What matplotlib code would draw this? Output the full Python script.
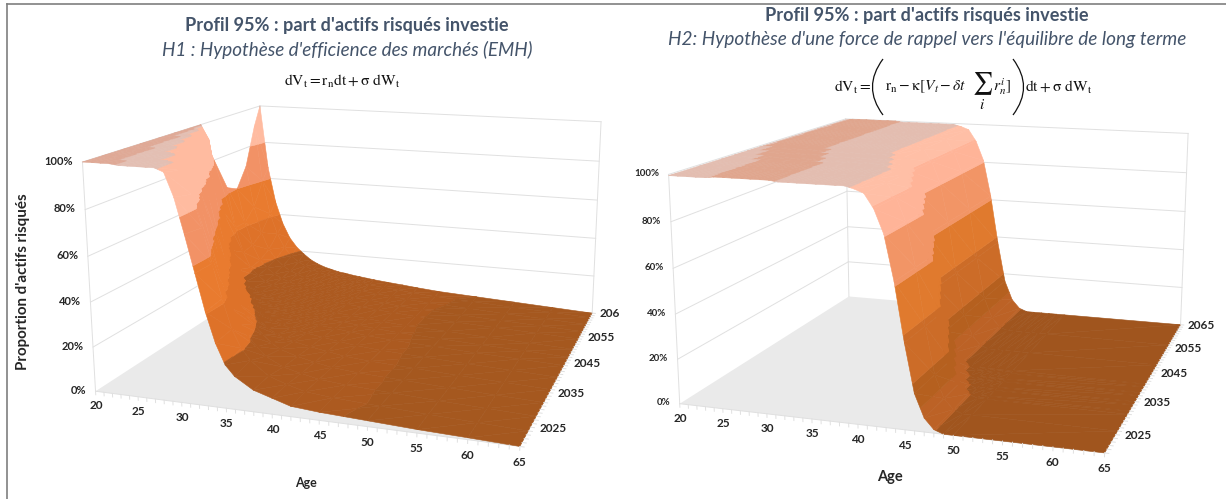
import matplotlib
matplotlib.use('Agg')
import matplotlib.pyplot as plt
from matplotlib.lines import Line2D
from matplotlib.patches import PathPatch
from matplotlib.path import Path
from mpl_toolkits.mplot3d import proj3d
from mpl_toolkits.mplot3d.art3d import Poly3DCollection

W, H = 1226, 499
plt.rcParams['font.family'] = ['Lato', 'DejaVu Sans']
plt.rcParams['mathtext.fontset'] = 'stix'

# ---- H1 surface: one row of risky share per year, one column per age
ages_h1 = [20, 21, 22, 23, 24, 25, 26, 27, 28, 29, 30, 31, 32, 33, 34, 35, 36, 38, 40, 42, 45, 50, 55, 60, 65]
years_h1 = [2020, 2024, 2028, 2032, 2036, 2040, 2044, 2047, 2050, 2054, 2057, 2060, 2063, 2065]
z_h1 = [
    [1, 1, 1, 1, .995, .995, .995, .995, .995, .98, .88, .73, .57, .41, .28, .19, .145, .095, .07, .045, .035, .025, .015, .008, 0],
    [1, 1, 1, .995, .995, .995, .995, .995, .99, .96, .86, .72, .57, .42, .29, .21, .16, .10, .072, .05, .038, .027, .017, .008, 0],
    [1, 1, 1, .995, .995, .995, .995, .97, .90, .78, .62, .46, .33, .26, .21, .165, .125, .085, .065, .048, .037, .026, .016, .008, 0],
    [1, 1, .995, .995, .995, .98, .93, .82, .67, .50, .38, .30, .25, .205, .165, .13, .105, .08, .062, .047, .036, .026, .016, .008, 0],
    [1, 1, .995, .995, .97, .90, .76, .58, .42, .32, .25, .21, .17, .14, .115, .10, .09, .073, .06, .046, .036, .026, .016, .008, 0],
    [1, .995, .995, .96, .85, .66, .46, .33, .25, .20, .165, .14, .125, .11, .095, .088, .08, .068, .056, .045, .035, .025, .016, .008, 0],
    [1, .995, .93, .72, .47, .31, .23, .18, .15, .13, .115, .105, .095, .09, .082, .076, .07, .062, .053, .043, .034, .025, .015, .008, 0],
    [1, .93, .70, .42, .27, .20, .16, .135, .12, .105, .095, .09, .085, .08, .075, .07, .066, .058, .05, .042, .033, .024, .015, .008, 0],
    [.82, .55, .34, .24, .18, .15, .13, .115, .105, .095, .09, .085, .08, .075, .07, .066, .062, .055, .048, .04, .032, .024, .015, .008, 0],
    [.63, .42, .29, .21, .17, .14, .125, .11, .10, .092, .086, .08, .076, .072, .068, .064, .06, .054, .047, .04, .032, .023, .015, .008, 0],
    [.60, .42, .30, .22, .18, .15, .13, .115, .103, .095, .088, .082, .077, .073, .069, .065, .061, .055, .048, .04, .032, .024, .015, .008, 0],
    [.70, .48, .34, .25, .20, .165, .14, .125, .11, .10, .092, .086, .08, .076, .072, .068, .064, .057, .05, .042, .034, .025, .015, .008, 0],
    [.90, .60, .42, .31, .235, .19, .16, .14, .122, .11, .10, .092, .086, .08, .075, .07, .066, .059, .052, .043, .035, .026, .016, .009, 0],
    [1, .66, .47, .35, .27, .22, .185, .155, .135, .12, .11, .10, .095, .088, .083, .078, .073, .065, .058, .05, .04, .03, .02, .01, 0],
]

# ---- H2 surface: the cliff keeps its shape and moves to younger ages
ages_h2 = [20, 21, 22, 23, 24, 25, 26, 27, 28, 29, 30, 31, 32, 33, 34, 35, 36, 37, 38, 39, 40, 41, 42, 43, 44, 45, 46, 47, 48, 49, 50, 65]
row_a = [.995, .995, .995, .995, .995, 1, 1, 1, 1, 1, 1, 1, .995, .995, .995, .995, .995, .995, .995, .995, .985, .97, .91, .81, .62, .37, .16, .06, .015, 0, 0, 0]
row_b = [.995, .995, .995, .995, 1, 1, 1, 1, 1, 1, 1, .995, .995, .995, .995, .995, .995, .995, .995, .985, .97, .91, .81, .62, .37, .16, .06, .015, 0, 0, 0, 0]
row_c = [.995, .995, .995, 1, 1, 1, 1, 1, 1, 1, .995, .995, .995, .995, .995, .995, .995, .995, .985, .97, .91, .81, .62, .37, .16, .06, .015, 0, 0, 0, 0, 0]
row_d = [.995, .995, 1, 1, 1, 1, 1, 1, 1, .995, .995, .995, .995, .995, .995, .995, .995, .985, .97, .91, .81, .62, .37, .16, .06, .015, 0, 0, 0, 0, 0, 0]
row_e = [.995, 1, 1, 1, 1, 1, 1, 1, .995, .995, .995, .995, .995, .995, .995, .995, .985, .97, .91, .81, .62, .37, .16, .06, .015, 0, 0, 0, 0, 0, 0, 0]
years_h2 = [2020, 2026, 2031, 2032, 2034, 2035, 2037, 2038, 2040, 2041, 2048, 2056, 2065]
z_h2 = [row_a, row_a, row_a, row_b, row_b, row_c, row_c, row_d, row_d, row_e, row_e, row_e, row_e]

z_ticks = [0, .2, .4, .6, .8, 1]
z_labels = ['0%', '20%', '40%', '60%', '80%', '100%']
age_ticks = [20, 25, 30, 35, 40, 45, 50, 55, 60, 65]
year_ticks = [2025, 2035, 2045, 2055, 2065]

levels_h1 = [-1, .03, .20, .40, .60, .80, .99, .997, 1.01]
colors_h1 = ['#A5581F', '#AC5A20', '#DE7229', '#E97B2F', '#F29266', '#FFBBA0', '#E3BFB3', '#DFA996']
levels_h2 = [-1, .012, .10, .20, .40, .60, .80, .92, .99, .997, 1.01]
colors_h2 = ['#A0551E', '#BC6226', '#B5601F', '#CC6C28', '#E07A2E', '#F29566', '#FFB498', '#FFBFA6', '#E3BDB0', '#E0A68E']


def px(x, y):
    return x / W, 1 - y / H


def clip_band(tri, lo, hi):
    # cut a triangle down to the part between two heights
    poly = tri
    for limit, sign in ((lo, 1), (hi, -1)):
        kept = []
        for k in range(len(poly)):
            p, q = poly[k], poly[(k + 1) % len(poly)]
            dp, dq = sign * (p[2] - limit), sign * (q[2] - limit)
            if dp >= 0:
                kept.append(p)
            if dp * dq < 0:
                t = dp / (dp - dq)
                kept.append(tuple(a + t * (b - a) for a, b in zip(p, q)))
        poly = kept
        if len(poly) < 3:
            return []
    return poly


def band_polys(ages, years, z, levels, colors):
    polys, faces = [], []
    for j in range(len(years) - 1):
        for i in range(len(ages) - 1):
            p00 = (ages[i], years[j], z[j][i])
            p10 = (ages[i + 1], years[j], z[j][i + 1])
            p01 = (ages[i], years[j + 1], z[j + 1][i])
            p11 = (ages[i + 1], years[j + 1], z[j + 1][i + 1])
            for tri in ((p00, p10, p11), (p00, p11, p01)):
                for b, col in enumerate(colors):
                    part = clip_band(tri, levels[b], levels[b + 1])
                    if part:
                        polys.append(part)
                        faces.append(col)
    return polys, faces


def tick_text(ax, x, y, z, label, **kw):
    # project first so the label sits in plain axes coordinates
    xp, yp, _ = proj3d.proj_transform(x, y, z, ax.get_proj())
    ax.text2D(xp, yp, label, transform=ax.transData, va='center', fontweight='bold', color='#262626', **kw)


def draw_chart(box, cam, ages, years, z, levels, colors, z_size, year_labels):
    left, bottom, size = box
    ax = fig.add_axes([left / W, bottom / H, size / W, size / H], projection='3d')
    ax.patch.set_visible(False)
    ax.set_axis_off()
    ax.computed_zorder = False
    ax.set_xlim(20, 65)
    ax.set_ylim(2020, 2065)
    ax.set_zlim(0, 1)
    ax.view_init(elev=cam[0], azim=cam[1])
    ax.set_proj_type('persp', focal_length=cam[2])
    ax.set_box_aspect(cam[3:])

    floor = [[(20, 2020, 0), (65, 2020, 0), (65, 2065, 0), (20, 2065, 0)]]
    ax.add_collection3d(Poly3DCollection(floor, facecolors='#EAEAEA', edgecolors='none', zorder=1))

    grid = '#E0E0E0'
    for v in z_ticks[1:]:
        ax.plot([20, 20], [2020, 2065], [v, v], color=grid, lw=.7, zorder=2)
        ax.plot([20, 65], [2065, 2065], [v, v], color=grid, lw=.7, zorder=2)
    for a, y in ((20, 2020), (20, 2065), (65, 2065)):
        ax.plot([a, a], [y, y], [0, 1], color=grid, lw=.7, zorder=2)

    polys, faces = band_polys(ages, years, z, levels, colors)
    ax.add_collection3d(Poly3DCollection(polys, facecolors=faces, edgecolors=faces, linewidths=.4, zorder=3))

    for a in range(20, 66):
        ax.plot([a, a], [2020, 2020], [0, -.016], color=grid, lw=.7, zorder=4)
    for y in range(2020, 2066):
        ax.plot([65, 65.4], [y, y], [0, 0], color=grid, lw=.7, zorder=4)
    ax.plot([20, 65], [2020, 2020], [0, 0], color=grid, lw=.7, zorder=2)

    for v, label in zip(z_ticks, z_labels):
        tick_text(ax, 18.9, 2020, v, label, ha='right', fontsize=z_size)
    for a in age_ticks:
        tick_text(ax, a, 2020, -.066, str(a), ha='center', fontsize=8.5)
    for y, label in zip(year_ticks, year_labels):
        tick_text(ax, 65.9, y, 0, label, ha='left', fontsize=8.5)


fig = plt.figure(figsize=(W / 100, H / 100), dpi=100)

draw_chart((68.7, -45.9, 581.25), (14.1095, -71.3474, .3925, 4.9124, 4.8351, 2.6522),
           ages_h1, years_h1, z_h1, levels_h1, colors_h1, 8, ['2025', '2035', '2045', '2055', '206'])
draw_chart((649.8, -62.9, 591.6), (13.1229, -71.9217, .4227, 4.3427, 4.4563, 2.3351),
           ages_h2, years_h2, z_h2, levels_h2, colors_h2, 7, ['2025', '2035', '2045', '2055', '2065'])

title_color = '#44546A'
fig.text(*px(347, 26), "Profil 95% : part d'actifs risqués investie", ha='center', va='center',
         fontsize=13.1, fontweight='bold', color=title_color)
fig.text(*px(347, 50), "H1 : Hypothèse d'efficience des marchés (EMH)", ha='center', va='center',
         fontsize=13.6, fontstyle='italic', color=title_color)
fig.text(*px(927, 16), "Profil 95% : part d'actifs risqués investie", ha='center', va='center',
         fontsize=13.1, fontweight='bold', color=title_color)
fig.text(*px(927, 39), "H2: Hypothèse d'une force de rappel vers l'équilibre de long terme", ha='center', va='center',
         fontsize=13.7, fontstyle='italic', color=title_color)

# equations
eq_color = '#111111'
fig.text(*px(342, 81), r'$\mathrm{dV_t = r_n dt + \sigma\ dW_t}$', ha='center', va='center', fontsize=11.2, color=eq_color)
fig.text(*px(834, 87), r'$\mathrm{dV_t} =$', ha='left', va='center', fontsize=11.2, color=eq_color)
fig.text(*px(885, 87), r'$\mathrm{r_n} - \mathrm{\kappa}[V_t - \delta t$', ha='left', va='center', fontsize=11.2, color=eq_color)
fig.text(*px(983, 91), r'$\sum_i$', ha='center', va='center', fontsize=16, color=eq_color)
fig.text(*px(993, 87), r'$r_n^i]$', ha='left', va='center', fontsize=11.2, color=eq_color)
fig.text(*px(1025, 87), r'$\mathrm{dt} + \mathrm{\sigma\ dW_t}$', ha='left', va='center', fontsize=11.2, color=eq_color)
for xs in ((883, 869, 869, 883), (1013, 1027, 1027, 1013)):
    verts = [px(xs[0], 59), px(xs[1], 78), px(xs[2], 96), px(xs[3], 115)]
    fig.add_artist(PathPatch(Path(verts, [Path.MOVETO, Path.CURVE4, Path.CURVE4, Path.CURVE4]),
                             transform=fig.transFigure, fill=False, edgecolor=eq_color, lw=.9))

fig.text(*px(23, 282), "Proportion d'actifs risqués", rotation=90, ha='center', va='center',
         fontsize=10.9, fontweight='bold', color='#262626')
fig.text(*px(306, 483), 'Age', ha='center', va='center', fontsize=9, fontweight='bold', color='#262626')
fig.text(*px(890, 477), 'Age', ha='center', va='center', fontsize=10.5, fontweight='bold', color='#262626')

frame = '#7F7F7F'
fig.add_artist(Line2D([7 / W, 7 / W], [0, 1 - 4 / H], color=frame, lw=1.2))
fig.add_artist(Line2D([7 / W, 1], [1 - 4 / H, 1 - 4 / H], color=frame, lw=1.2))

fig.savefig('out.png', dpi=100)
